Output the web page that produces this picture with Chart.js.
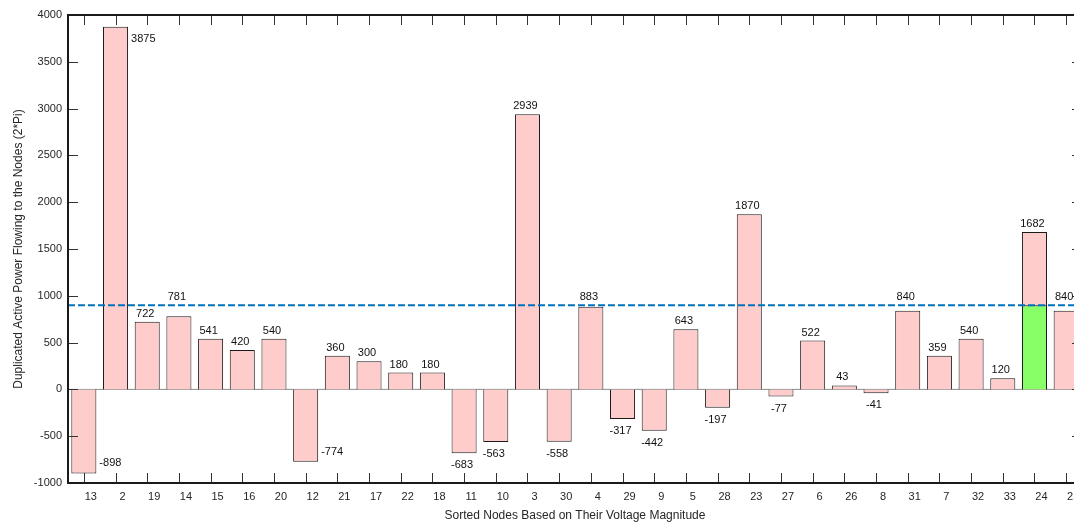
<!DOCTYPE html>
<html>
<head>
<meta charset="utf-8">
<title>Sorted nodes</title>
<script src="https://cdn.jsdelivr.net/npm/chart.js@4.4.0/dist/chart.umd.min.js"></script>
<style>
  html, body { margin: 0; padding: 0; background: #fff; overflow: hidden; }
  canvas { display: block; }
</style>
</head>
<body>
<canvas id="chart" width="1100" height="525" style="width:1100px;height:525px"></canvas>
<script>
const nodes = ['13', '2', '19', '14', '15', '16', '20', '12', '21', '17', '22', '18', '11', '10', '3', '30',
  '4', '29', '9', '5', '28', '23', '27', '6', '26', '8', '31', '7', '32', '33', '24', '25'];
const power = [-898, 3875, 722, 781, 541, 420, 540, -774, 360, 300, 180, 180, -683, -563, 2939, -558,
  883, -317, -442, 643, -197, 1870, -77, 522, 43, -41, 840, 359, 540, 120, 1682, 840];
const yTicks = [-1000, -500, 0, 500, 1000, 1500, 2000, 2500, 3000, 3500, 4000];
const threshold = 900;
const highlightNode = '24';
// labels written beside the bar instead of above / below it
const sideLabelNodes = ['13', '2', '12'];

const FONT = 'Liberation Sans, Arial, sans-serif';
const highlight = nodes.map((n) => (n === highlightNode ? threshold : null));

// box, inward ticks, baseline and the dashed threshold line
const axesPlugin = {
  id: 'matlabAxes',
  beforeDatasetsDraw(chart) {
    const { ctx, chartArea: a, scales: { y } } = chart;
    const y0 = y.getPixelForValue(0);
    ctx.save();
    ctx.strokeStyle = '#8c8c8c';
    ctx.lineWidth = 1;
    ctx.beginPath();
    ctx.moveTo(a.left, y0);
    ctx.lineTo(a.right, y0);
    ctx.stroke();
    ctx.restore();
  },
  afterDatasetsDraw(chart) {
    const { ctx, chartArea: a, scales: { x, y } } = chart;
    ctx.save();

    // dashed line
    const yt = y.getPixelForValue(threshold);
    ctx.strokeStyle = '#0072BD';
    ctx.lineWidth = 2;
    ctx.setLineDash([7, 3]);
    ctx.beginPath();
    ctx.moveTo(a.left, yt);
    ctx.lineTo(a.right, yt);
    ctx.stroke();
    ctx.setLineDash([]);

    // ticks
    ctx.strokeStyle = '#333';
    ctx.lineWidth = 1;
    ctx.beginPath();
    x.ticks.forEach((t, i) => {
      const px = Math.round(x.getPixelForTick(i)) + 0.5;
      ctx.moveTo(px, a.top);
      ctx.lineTo(px, a.top + 10);
      ctx.moveTo(px, a.bottom);
      ctx.lineTo(px, a.bottom - 10);
    });
    y.ticks.forEach((t) => {
      const py = Math.round(y.getPixelForValue(t.value)) + 0.5;
      ctx.moveTo(a.left, py);
      ctx.lineTo(a.left + 10, py);
      ctx.moveTo(a.right, py);
      ctx.lineTo(a.right - 10, py);
    });
    ctx.stroke();

    // box
    ctx.strokeStyle = '#1a1a1a';
    ctx.lineWidth = 2;
    ctx.strokeRect(a.left, a.top, a.right - a.left, a.bottom - a.top);
    ctx.restore();
  },
};

// value labels
const labelPlugin = {
  id: 'valueLabels',
  afterDraw(chart) {
    const { ctx, scales: { y } } = chart;
    const meta = chart.getDatasetMeta(1);
    const yt = y.getPixelForValue(threshold);
    ctx.save();
    ctx.font = '11px ' + FONT;
    ctx.fillStyle = '#111';
    ctx.textBaseline = 'middle';
    meta.data.forEach((bar, i) => {
      const v = power[i];
      const txt = String(v);
      const end = bar.y;
      if (sideLabelNodes.includes(nodes[i])) {
        ctx.textAlign = 'left';
        const ly = v > 0 ? end + 12 : end - 10;
        ctx.fillText(txt, bar.x + bar.width / 2 + 3, ly);
        return;
      }
      ctx.textAlign = 'center';
      let ly;
      if (v >= 0) {
        ly = end - 8;
        if (ly - 6 < yt + 2 && ly + 6 > yt - 2) ly = yt - 8;
      } else {
        ly = end + 12;
      }
      ctx.fillText(txt, bar.x - 2, ly);
    });
    ctx.restore();
  },
};

new Chart(document.getElementById('chart'), {
  type: 'bar',
  data: {
    labels: nodes,
    datasets: [
      {
        data: highlight,
        backgroundColor: '#88ff66',
        borderColor: '#1a1a1a',
        borderWidth: 1,
        grouped: false,
        order: 0,
        barPercentage: 0.79,
        categoryPercentage: 1,
      },
      {
        data: power,
        backgroundColor: '#ffcccc',
        borderColor: '#1a1a1a',
        borderWidth: 1,
        grouped: false,
        order: 1,
        barPercentage: 0.79,
        categoryPercentage: 1,
      },
    ],
  },
  options: {
    responsive: false,
    animation: false,
    devicePixelRatio: 1,
    layout: { padding: { top: 15, right: 18, left: 0, bottom: 0 } },
    plugins: { legend: { display: false }, tooltip: { enabled: false } },
    scales: {
      x: {
        grid: { display: false, drawTicks: false },
        border: { display: false },
        ticks: {
          autoSkip: false,
          maxRotation: 0,
          padding: 7,
          labelOffset: 7,
          color: '#262626',
          font: { family: FONT, size: 11 },
        },
        title: {
          display: true,
          text: 'Sorted Nodes Based on Their Voltage Magnitude',
          color: '#262626',
          font: { family: FONT, size: 12 },
          padding: { top: 0, bottom: 2 },
        },
        afterFit(scale) { scale.height = 42; },
      },
      y: {
        min: -1000,
        max: 4000,
        afterBuildTicks(scale) { scale.ticks = yTicks.map((v) => ({ value: v })); },
        grid: { display: false, drawTicks: false },
        border: { display: false },
        ticks: {
          padding: 6,
          color: '#262626',
          font: { family: FONT, size: 11 },
          callback: (v) => String(v),
        },
        title: {
          display: true,
          text: 'Duplicated Active Power Flowing to the Nodes (2*Pi)',
          color: '#262626',
          font: { family: FONT, size: 12 },
          padding: { top: 11, bottom: 0 },
        },
        afterFit(scale) { scale.width = 68; },
      },
    },
  },
  plugins: [axesPlugin, labelPlugin],
});
</script>
</body>
</html>
